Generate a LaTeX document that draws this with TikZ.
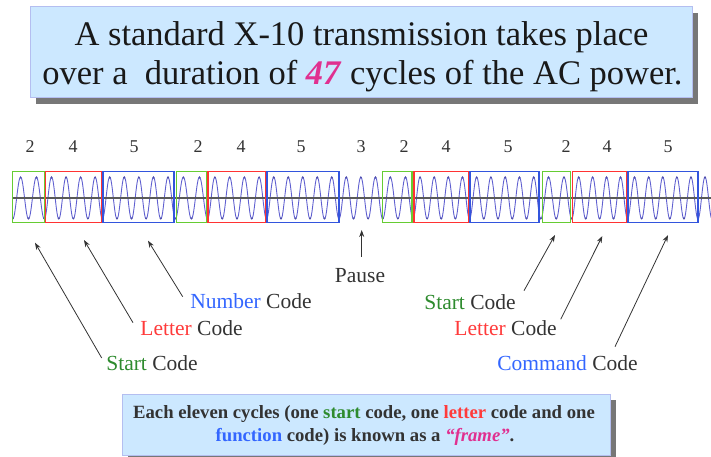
\documentclass[tikz,border=0pt]{standalone}
\usepackage{fontspec}
\setmainfont{Liberation Serif}
\newfontfamily\tms{Liberation Serif}
\usetikzlibrary{arrows.meta}
\definecolor{boxfill}{HTML}{CCE8FF}
\definecolor{boxline}{HTML}{B4BEF0}
\definecolor{shade}{HTML}{777777}
\definecolor{mag}{HTML}{E03090}
\definecolor{sgreen}{HTML}{2E8B2E}
\definecolor{lred}{HTML}{FF3B3B}
\definecolor{nblue}{HTML}{3366FF}
\definecolor{gframe}{HTML}{66CC33}
\definecolor{rframe}{HTML}{FF3333}
\definecolor{bframe}{HTML}{3355DD}
\definecolor{wavec}{HTML}{6060D0}
\definecolor{txt}{HTML}{333333}
\tikzset{
  panel/.style={draw=boxline, fill=boxfill, line width=1pt, inner sep=0pt},
  shadowbox/.style={fill=shade},
  wave/.style={draw=wavec, line width=0.9pt},
  axisline/.style={draw=black!65, line width=1.2pt},
  gseg/.style={draw=gframe, line width=1.4pt},
  rseg/.style={draw=rframe, line width=1.4pt},
  bseg/.style={draw=bframe, line width=1.4pt},
  num/.style={text=txt},
  lab/.style={text=txt, inner sep=0pt},
  ttl/.style={text=black!90, inner sep=0pt, anchor=base},
  btxt/.style={text=txt, inner sep=0pt, anchor=base},
  arr/.style={draw=txt, line width=0.8pt, -{Stealth[length=7pt,width=5pt]}},
}
\newcommand\tfnt{\tms\fontsize{34.5}{38}\selectfont}
\newcommand\nfnt{\tms\fontsize{18}{20}\selectfont}
\newcommand\lfnt{\tms\fontsize{21.5}{24}\selectfont}
\newcommand\bfnt{\tms\fontsize{18.7}{25}\selectfont\bfseries}
\begin{document}
\begin{tikzpicture}[x=1pt,y=-1pt]
\useasboundingbox (0,0) rectangle (711,457);

% title box
\fill[shadowbox] (36,13) rectangle (698,104);
\node[panel, minimum width=662pt, minimum height=91pt] (title) at (361,52.5) {};
\node[ttl] (t1) at (361.5,46) {\tfnt A standard X-10 transmission takes place};
\node[ttl] (t2) at (362.5,85) {\tfnt over a\ \ duration of \textcolor{mag}{\textbf{\textit{47}}} cycles of the AC power.};

% wave
\begin{scope}
\clip (12.7,160) rectangle (711,235);
\foreach \a/\b/\n in {12.7/44.3/2, 44.3/102.4/4, 102.4/175.3/5, 175.3/207.5/2, 207.5/266.5/4, 266.5/339/5, 339/382.7/3, 382.7/413/2, 413/469.5/4, 469.5/540.8/5, 540.8/571.7/2, 571.7/627.5/4, 627.5/698/5, 698/712/1} {
  \pgfmathsetmacro{\per}{(\b-\a)/\n}
  \pgfmathsetmacro{\q}{\per/4}
  \pgfmathtruncatemacro{\m}{\n-1}
  \foreach \i in {0,...,\m} {
    \pgfmathsetmacro{\xs}{\a+\i*\per}
    \draw[wave] (\xs,219) cos ++(\q,-21) sin ++(\q,-21) cos ++(\q,21) sin ++(\q,21);
    \fill[wavec!80!black] ({\xs+2*\q},177.5) circle (1.1pt);
    \fill[wavec!80!black] (\xs,218.5) circle (1.1pt);
  }
}
\end{scope}
\draw[axisline] (12.7,198) -- (711,198);

% segment frames
\draw[gseg] (12.7,171.7) rectangle (44.3,222.7);
\draw[rseg] (45.7,171.7) rectangle (101.7,222.7);
\draw[bseg] (103,171.7) rectangle (174,222.7);
\draw[gseg] (176.7,171.7) rectangle (207,222.7);
\draw[rseg] (208,171.7) rectangle (266,222.7);
\draw[bseg] (267,171.7) rectangle (339,222.7);
\draw[gseg] (382.7,171.7) rectangle (412,222.7);
\draw[rseg] (414,171.7) rectangle (469,222.7);
\draw[bseg] (470,171.7) rectangle (539,222.7);
\draw[gseg] (542.7,171.7) rectangle (570.7,222.7);
\draw[rseg] (572.7,171.7) rectangle (627,222.7);
\draw[bseg] (628,171.7) rectangle (698,222.7);

% cycle counts
\node[num] (n1) at (30,147) {\nfnt 2};
\node[num] (n2) at (73,147) {\nfnt 4};
\node[num] (n3) at (134,147) {\nfnt 5};
\node[num] (n4) at (198,147) {\nfnt 2};
\node[num] (n5) at (241,147) {\nfnt 4};
\node[num] (n6) at (301,147) {\nfnt 5};
\node[num] (n7) at (361,147) {\nfnt 3};
\node[num] (n8) at (404,147) {\nfnt 2};
\node[num] (n9) at (446,147) {\nfnt 4};
\node[num] (n10) at (508,147) {\nfnt 5};
\node[num] (n11) at (566,147) {\nfnt 2};
\node[num] (n12) at (607,147) {\nfnt 4};
\node[num] (n13) at (668,147) {\nfnt 5};

% labels
\node[lab] (lstart) at (152,363) {\lfnt\textcolor{sgreen}{Start} Code};
\node[lab] (lletter) at (191.5,327.7) {\lfnt\textcolor{lred}{Letter} Code};
\node[lab] (lnumber) at (251,301) {\lfnt\textcolor{nblue}{Number} Code};
\node[lab] (pause) at (360,276) {\lfnt Pause};
\node[lab] (rstart) at (470,301.7) {\lfnt\textcolor{sgreen}{Start} Code};
\node[lab] (rletter) at (505.5,327.7) {\lfnt\textcolor{lred}{Letter} Code};
\node[lab] (rcommand) at (567.5,362.7) {\lfnt\textcolor{nblue}{Command} Code};

\coordinate (tls) at (35,242.7);
\coordinate (tll) at (84,240);
\coordinate (tln) at (148,240.7);
\coordinate (tp) at (361.7,230);
\coordinate (trs) at (555,235);
\coordinate (trl) at (602.3,236);
\coordinate (trc) at (668,235);

\draw[arr] (101.7,358) -- (tls);
\draw[arr] (133,322.7) -- (tll);
\draw[arr] (182.7,296.7) -- (tln);
\draw[arr] (361.7,256.7) -- (tp);
\draw[arr] (524,290.7) -- (trs);
\draw[arr] (560.7,319.3) -- (trl);
\draw[arr] (615,346.7) -- (trc);

% bottom box
\fill[shadowbox] (128,400) rectangle (616,461);
\node[panel, minimum width=488pt, minimum height=61pt] (frame) at (366,424.5) {};
\node[btxt] (b1) at (364,418) {\bfnt Each eleven cycles (one \textcolor{sgreen}{start} code, one \textcolor{lred}{letter} code and one};
\node[btxt] (b2) at (365,441.7) {\bfnt\textcolor{nblue}{function} code) is known as a \textcolor{mag}{\textit{“frame”}}.};
\end{tikzpicture}
\end{document}
